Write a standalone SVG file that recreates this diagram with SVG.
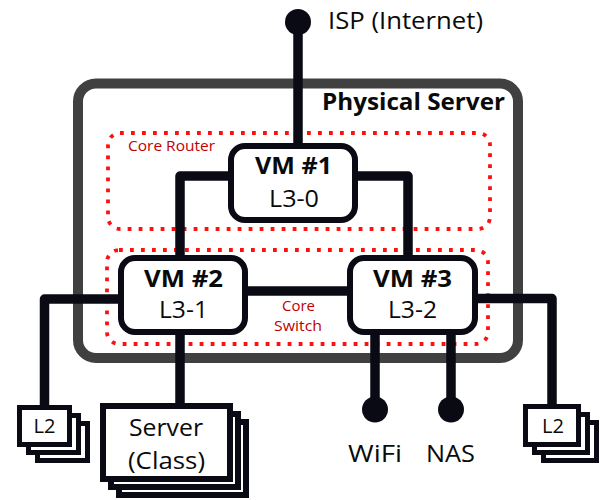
<svg xmlns="http://www.w3.org/2000/svg" width="600" height="500" viewBox="0 0 600 500">
  <style>
    .txt { font-family: "Open Sans", "Liberation Sans", sans-serif; fill: #0a0a0a; }
    .bold { font-weight: bold; }
    .red { font-family: "Open Sans", "Liberation Sans", sans-serif; fill: #c00000; font-size: 15px; }
    .zone { fill: none; stroke: #ff1010; stroke-width: 3.8; stroke-dasharray: 3.8 7.2; }
    .wire { fill: none; stroke: #0a0a14; stroke-width: 9.5; stroke-linejoin: round; }
    .vm { fill: #ffffff; stroke: #0a0a14; stroke-width: 6; }
    .card { fill: #ffffff; stroke: #0a0a14; stroke-width: 5; }
    .dot { fill: #0a0a14; }
  </style>

  <rect width="600" height="500" fill="#ffffff"/>

  <!-- Host enclosure -->
  <g id="physical-server">
    <rect x="78" y="83.5" width="440" height="274.5" rx="18" fill="#ffffff" stroke="#404040" stroke-width="10"/>
    <text class="txt bold" x="322" y="110" font-size="23.5" textLength="183" lengthAdjust="spacingAndGlyphs">Physical Server</text>
  </g>

  <!-- Dotted zones -->
  <g id="core-router-zone">
    <rect class="zone" x="108" y="133" width="382" height="96" rx="12"/>
    <text class="red" x="128" y="150.5" textLength="87" lengthAdjust="spacingAndGlyphs">Core Router</text>
  </g>
  <g id="core-switch-zone">
    <rect class="zone" x="107" y="250" width="381" height="94" rx="12"/>
    <text class="red" x="298.5" y="311" text-anchor="middle" textLength="33" lengthAdjust="spacingAndGlyphs">Core</text>
    <text class="red" x="298" y="331" text-anchor="middle" textLength="48" lengthAdjust="spacingAndGlyphs">Switch</text>
  </g>

  <!-- Links -->
  <g id="connectors">
    <path class="wire" d="M298,22 V150"/>
    <path class="wire" d="M235,176 H180 V262"/>
    <path class="wire" d="M351,176 H408 V262"/>
    <path class="wire" d="M245,291 H352"/>
    <path class="wire" d="M124,299 H44.5 V408"/>
    <path class="wire" d="M472,298.5 H552 V407"/>
    <path class="wire" d="M180,330 V407"/>
    <path class="wire" d="M375,330 V409"/>
    <path class="wire" d="M451,330 V409"/>
  </g>

  <g id="isp">
    <circle class="dot" cx="298" cy="22" r="13"/>
    <text class="txt" x="328" y="29" font-size="24" textLength="155" lengthAdjust="spacingAndGlyphs">ISP (Internet)</text>
  </g>

  <g id="vm1">
    <rect class="vm" x="231" y="146" width="124" height="74" rx="14"/>
    <text class="txt bold" x="293.5" y="174" font-size="24" text-anchor="middle" textLength="77" lengthAdjust="spacingAndGlyphs">VM #1</text>
    <text class="txt" x="294" y="207" font-size="24" text-anchor="middle" textLength="50" lengthAdjust="spacingAndGlyphs">L3-0</text>
  </g>

  <g id="vm2">
    <rect class="vm" x="121" y="258" width="124" height="74" rx="14"/>
    <text class="txt bold" x="183.5" y="287" font-size="24" text-anchor="middle" textLength="79" lengthAdjust="spacingAndGlyphs">VM #2</text>
    <text class="txt" x="183.5" y="318" font-size="24" text-anchor="middle" textLength="49" lengthAdjust="spacingAndGlyphs">L3-1</text>
  </g>

  <g id="vm3">
    <rect class="vm" x="350" y="258" width="125" height="74" rx="14"/>
    <text class="txt bold" x="412.5" y="287" font-size="24" text-anchor="middle" textLength="79" lengthAdjust="spacingAndGlyphs">VM #3</text>
    <text class="txt" x="412.5" y="318" font-size="24" text-anchor="middle" textLength="49" lengthAdjust="spacingAndGlyphs">L3-2</text>
  </g>

  <g id="l2-left">
    <rect class="card" x="37.5" y="423.5" width="50" height="37"/>
    <rect class="card" x="28.5" y="415.5" width="50" height="37"/>
    <rect class="card" x="19.5" y="407.5" width="50" height="37"/>
    <text class="txt" x="44.5" y="433" font-size="20" text-anchor="middle" textLength="22" lengthAdjust="spacingAndGlyphs">L2</text>
  </g>

  <g id="server-class">
    <rect class="vm" x="119" y="422" width="127" height="73"/>
    <rect class="vm" x="111" y="414" width="127" height="73"/>
    <rect class="vm" x="103" y="406" width="127" height="73"/>
    <text class="txt" x="166" y="436" font-size="24" text-anchor="middle" textLength="74" lengthAdjust="spacingAndGlyphs">Server</text>
    <text class="txt" x="166.5" y="469" font-size="24" text-anchor="middle" textLength="77" lengthAdjust="spacingAndGlyphs">(Class)</text>
  </g>

  <g id="wifi">
    <circle class="dot" cx="375" cy="409.5" r="13"/>
    <text class="txt" x="375" y="462" font-size="24" text-anchor="middle" textLength="54" lengthAdjust="spacingAndGlyphs">WiFi</text>
  </g>

  <g id="nas">
    <circle class="dot" cx="451" cy="409.5" r="13"/>
    <text class="txt" x="450.5" y="462" font-size="24" text-anchor="middle" textLength="49" lengthAdjust="spacingAndGlyphs">NAS</text>
  </g>

  <g id="l2-right">
    <rect class="card" x="543.5" y="422.5" width="53" height="38"/>
    <rect class="card" x="534.5" y="414.5" width="53" height="38"/>
    <rect class="card" x="525.5" y="406.5" width="53" height="38"/>
    <text class="txt" x="553" y="433" font-size="20" text-anchor="middle" textLength="22" lengthAdjust="spacingAndGlyphs">L2</text>
  </g>
</svg>
